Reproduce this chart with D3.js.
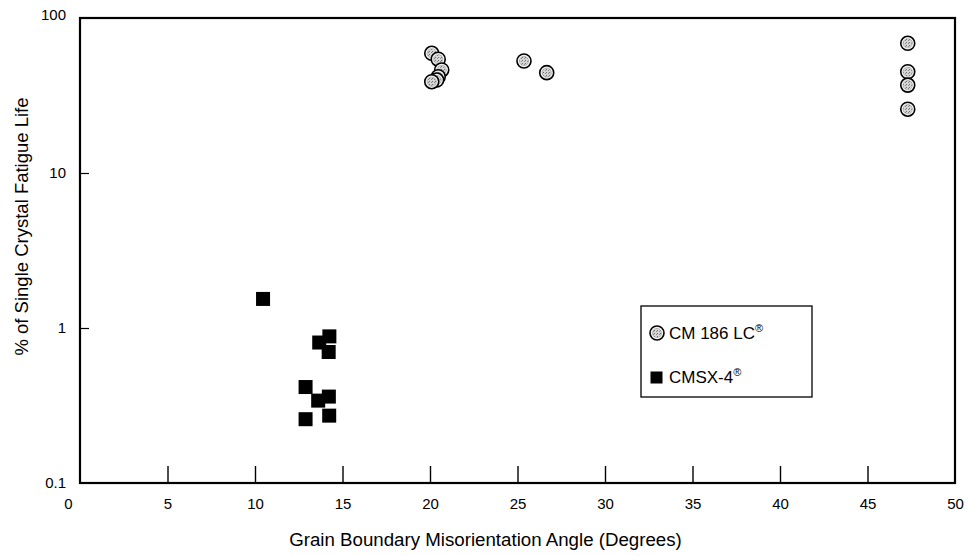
<!DOCTYPE html>
<html>
<head>
<meta charset="utf-8">
<script src="https://cdn.jsdelivr.net/npm/d3@7/dist/d3.min.js"></script>
<style>
  html, body { margin: 0; padding: 0; background: #ffffff; }
  svg { display: block; font-family: "Liberation Sans", Arial, Helvetica, sans-serif; }
</style>
</head>
<body>
<svg id="chart" width="969" height="556"></svg>
<script>
// Fatigue life of bicrystals vs. grain boundary misorientation
const cm186Angle = [20.1, 20.47, 20.67, 20.47, 20.38, 20.1, 25.37, 26.67, 47.3, 47.3, 47.3, 47.3];
const cm186Life  = [59.2, 54.2, 46.2, 41.8, 39.8, 38.8, 52.8, 44.4, 68.7, 45.0, 36.9, 25.8];

const cmsx4Angle = [10.46, 14.25, 13.67, 14.21, 12.89, 13.61, 14.22, 12.89, 14.24];
const cmsx4Life  = [1.54, 0.883, 0.806, 0.700, 0.416, 0.340, 0.361, 0.258, 0.272];

const xTickValues = [0, 5, 10, 15, 20, 25, 30, 35, 40, 45, 50];
const yTickValues = [0.1, 1, 10, 100];

const seriesNames = ["CM 186 LC", "CMSX-4"];
const xTitle = "Grain Boundary Misorientation Angle (Degrees)";
const yTitle = "% of Single Crystal Fatigue Life";

const svg = d3.select("#chart");
const plotL = 80, plotR = 955, plotT = 18, plotB = 483;

const x = d3.scaleLinear().domain([0, 50]).range([plotL, plotR]);
const y = d3.scaleLog().domain([0.1, 100]).range([plotB, plotT]);

// stipple fill for the round markers
const defs = svg.append("defs");
const pat = defs.append("pattern")
  .attr("id", "stipple").attr("patternUnits", "userSpaceOnUse")
  .attr("width", 3).attr("height", 3);
pat.append("rect").attr("width", 3).attr("height", 3).attr("fill", "#d6d6d6");
pat.append("rect").attr("x", 0).attr("y", 0).attr("width", 1).attr("height", 1).attr("fill", "#6e6e6e");
pat.append("rect").attr("x", 2).attr("y", 1).attr("width", 1).attr("height", 1).attr("fill", "#8a8a8a");

// bottom axis: ticks point inward
const xAxis = svg.append("g")
  .attr("transform", `translate(0,${plotB})`)
  .call(d3.axisBottom(x).tickValues(xTickValues).tickSizeInner(-17).tickSizeOuter(0).tickPadding(15)
    .tickFormat(d3.format("d")));
xAxis.select(".domain").remove();
xAxis.selectAll(".tick").filter(d => d === 0 || d === 50).select("line").remove();
xAxis.selectAll(".tick").filter(d => d === 0).select("text").attr("dx", -12);
xAxis.selectAll(".tick line").attr("stroke", "#000").attr("stroke-width", 1.4);
xAxis.selectAll("text").attr("font-size", 15).attr("fill", "#000").attr("font-family", "Liberation Sans, Arial, sans-serif");

// left axis: log scale decades
const yAxis = svg.append("g")
  .attr("transform", `translate(${plotL},0)`)
  .call(d3.axisLeft(y).tickValues(yTickValues).tickSizeInner(-9).tickSizeOuter(0).tickPadding(14)
    .tickFormat(d => d3.format("~g")(d)));
yAxis.select(".domain").remove();
yAxis.selectAll(".tick").filter(d => d === 0.1 || d === 100).select("line").remove();
yAxis.selectAll(".tick").filter(d => d === 100).select("text").attr("dy", "0.1em");
yAxis.selectAll(".tick line").attr("stroke", "#000").attr("stroke-width", 1.2);
yAxis.selectAll("text").attr("font-size", 15).attr("fill", "#000").attr("font-family", "Liberation Sans, Arial, sans-serif");

// plot frame
svg.append("rect")
  .attr("x", plotL).attr("y", plotT)
  .attr("width", plotR - plotL).attr("height", plotB - plotT)
  .attr("fill", "none").attr("stroke", "#000").attr("stroke-width", 2.2);

// axis titles
svg.append("text")
  .attr("x", (plotL + plotR) / 2 - 32).attr("y", 546)
  .attr("text-anchor", "middle").attr("font-size", 18.7).attr("fill", "#000")
  .text(xTitle);
svg.append("text")
  .attr("transform", `translate(28,${(plotT + plotB) / 2 - 24}) rotate(-90)`)
  .attr("text-anchor", "middle").attr("font-size", 18.5).attr("fill", "#000")
  .text(yTitle);

function roundMarker(g, cx, cy) {
  g.append("circle").attr("cx", cx).attr("cy", cy).attr("r", 7)
    .attr("fill", "#f4f4f4").attr("stroke", "#000").attr("stroke-width", 1.6);
  g.append("circle").attr("cx", cx).attr("cy", cy).attr("r", 4.6)
    .attr("fill", "url(#stipple)").attr("stroke", "#999").attr("stroke-width", 0.6);
}

// CMSX-4 squares
const sq = 14;
svg.append("g").selectAll("rect")
  .data(cmsx4Angle.map((a, i) => ({ a, v: cmsx4Life[i] })))
  .join("rect")
  .attr("x", d => x(d.a) - sq / 2).attr("y", d => y(d.v) - sq / 2)
  .attr("width", sq).attr("height", sq).attr("fill", "#000");

// CM 186 LC circles
const cg = svg.append("g");
cm186Angle.forEach((a, i) => roundMarker(cg, x(a), y(cm186Life[i])));

// legend
const lg = svg.append("g");
lg.append("rect").attr("x", 641).attr("y", 306).attr("width", 171).attr("height", 91)
  .attr("fill", "#fff").attr("stroke", "#000").attr("stroke-width", 1.3);
roundMarker(lg, 657, 333);
lg.append("rect").attr("x", 650.5).attr("y", 371.5).attr("width", 12).attr("height", 12).attr("fill", "#000");
const t1 = lg.append("text").attr("x", 669).attr("y", 338.5).attr("font-size", 17).attr("fill", "#000");
t1.append("tspan").text(seriesNames[0]);
t1.append("tspan").attr("font-size", 11).attr("dy", -7).text("®");
const t2 = lg.append("text").attr("x", 669).attr("y", 383).attr("font-size", 17).attr("fill", "#000");
t2.append("tspan").text(seriesNames[1]);
t2.append("tspan").attr("font-size", 11).attr("dy", -7).text("®");
</script>
</body>
</html>
